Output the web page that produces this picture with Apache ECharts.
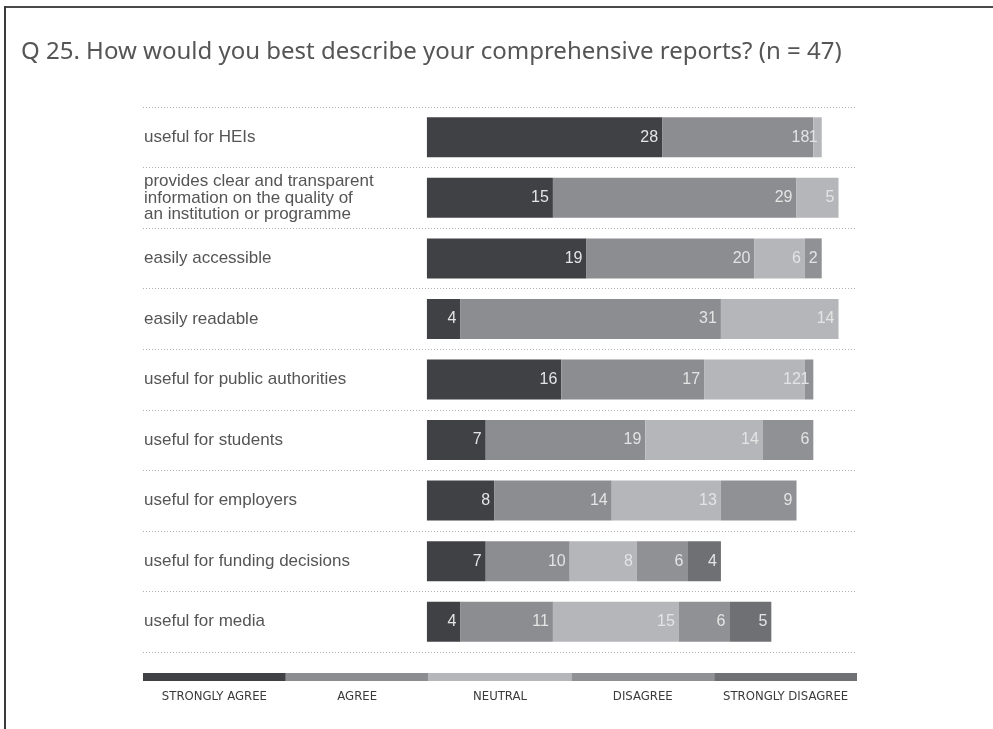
<!DOCTYPE html>
<html>
<head>
<meta charset="utf-8">
<title>Q 25 comprehensive reports</title>
<script src="https://cdn.jsdelivr.net/npm/echarts@6/dist/echarts.min.js"></script>
<style>
  html, body { margin: 0; padding: 0; background: #fff; }
  #chart { width: 993px; height: 729px; }
</style>
</head>
<body>
<div id="chart"></div>
<script>
// Survey statements (top to bottom)
const categories = [
  'useful for HEIs',
  'provides clear and transparent\ninformation on the quality of\nan institution or programme',
  'easily accessible',
  'easily readable',
  'useful for public authorities',
  'useful for students',
  'useful for employers',
  'useful for funding decisions',
  'useful for media'
];

// Answer counts per statement
const stronglyAgree    = [28, 15, 19, 4, 16, 7, 8, 7, 4];
const agree            = [18, 29, 20, 31, 17, 19, 14, 10, 11];
const neutral          = [1, 5, 6, 14, 12, 14, 13, 8, 15];
const disagree         = [0, 0, 2, 0, 1, 6, 9, 6, 6];
const stronglyDisagree = [0, 0, 0, 0, 0, 0, 0, 4, 5];

const answerNames = ['STRONGLY AGREE', 'AGREE', 'NEUTRAL', 'DISAGREE', 'STRONGLY DISAGREE'];
const answerColors = ['#404144', '#8c8d90', '#b5b6b9', '#909194', '#6f7073'];
const answerValues = [stronglyAgree, agree, neutral, disagree, stronglyDisagree];

const chart = echarts.init(document.getElementById('chart'));

const gridLeft = 143, gridWidth = 714, gridTop = 107, gridHeight = 545;

const series = answerNames.map((name, i) => ({
  name: name,
  type: 'bar',
  stack: 'answers',
  barWidth: 40,
  data: answerValues[i],
  itemStyle: { color: answerColors[i] },
  label: {
    show: true,
    position: 'insideRight',
    distance: 4,
    color: '#e4e4e4',
    fontFamily: 'Liberation Sans',
    fontSize: 16,
    formatter: p => (p.value ? String(p.value) : '')
  },
  emphasis: { disabled: true }
}));

// Legend strip along the bottom
const segW = gridWidth / answerNames.length;
const legendGraphics = [];
answerNames.forEach((name, i) => {
  legendGraphics.push({
    type: 'rect',
    shape: { x: gridLeft + i * segW, y: 673, width: segW, height: 8 },
    style: { fill: answerColors[i] },
    silent: true
  });
  legendGraphics.push({
    type: 'text',
    x: gridLeft + i * segW + segW / 2,
    y: 697,
    style: {
      text: name,
      fill: '#3a3a3a',
      font: '13px "Liberation Sans Narrow", "DejaVu Sans Condensed", sans-serif',
      textAlign: 'center',
      textVerticalAlign: 'middle'
    },
    silent: true
  });
});

chart.setOption({
  animation: false,
  backgroundColor: '#ffffff',
  title: {
    text: 'Q 25. How would you best describe your comprehensive reports? (n = 47)',
    left: 21,
    top: 40,
    padding: 0,
    textStyle: {
      color: '#555555',
      fontFamily: 'Noto Sans',
      fontSize: 24,
      fontWeight: 'normal'
    }
  },
  grid: { left: gridLeft, top: gridTop, width: gridWidth, height: gridHeight },
  xAxis: {
    type: 'value',
    min: -33.8,
    max: 51.2,
    show: false
  },
  yAxis: {
    type: 'category',
    data: categories,
    inverse: true,
    axisLine: { show: false },
    axisTick: { show: false },
    axisLabel: {
      inside: true,
      margin: 1,
      color: '#555555',
      fontFamily: 'Liberation Sans',
      fontSize: 17,
      lineHeight: 16.5
    },
    splitLine: {
      show: true,
      lineStyle: { color: '#b0b0b0', type: [1, 2], width: 1 }
    }
  },
  series: series,
  graphic: [
    {
      type: 'line',
      shape: { x1: 5, y1: 7, x2: 993, y2: 7 },
      style: { stroke: '#4a4a4a', lineWidth: 2 },
      silent: true
    },
    {
      type: 'line',
      shape: { x1: 5, y1: 6, x2: 5, y2: 729 },
      style: { stroke: '#3a3a3a', lineWidth: 2 },
      silent: true
    }
  ].concat(legendGraphics)
});
</script>
</body>
</html>
